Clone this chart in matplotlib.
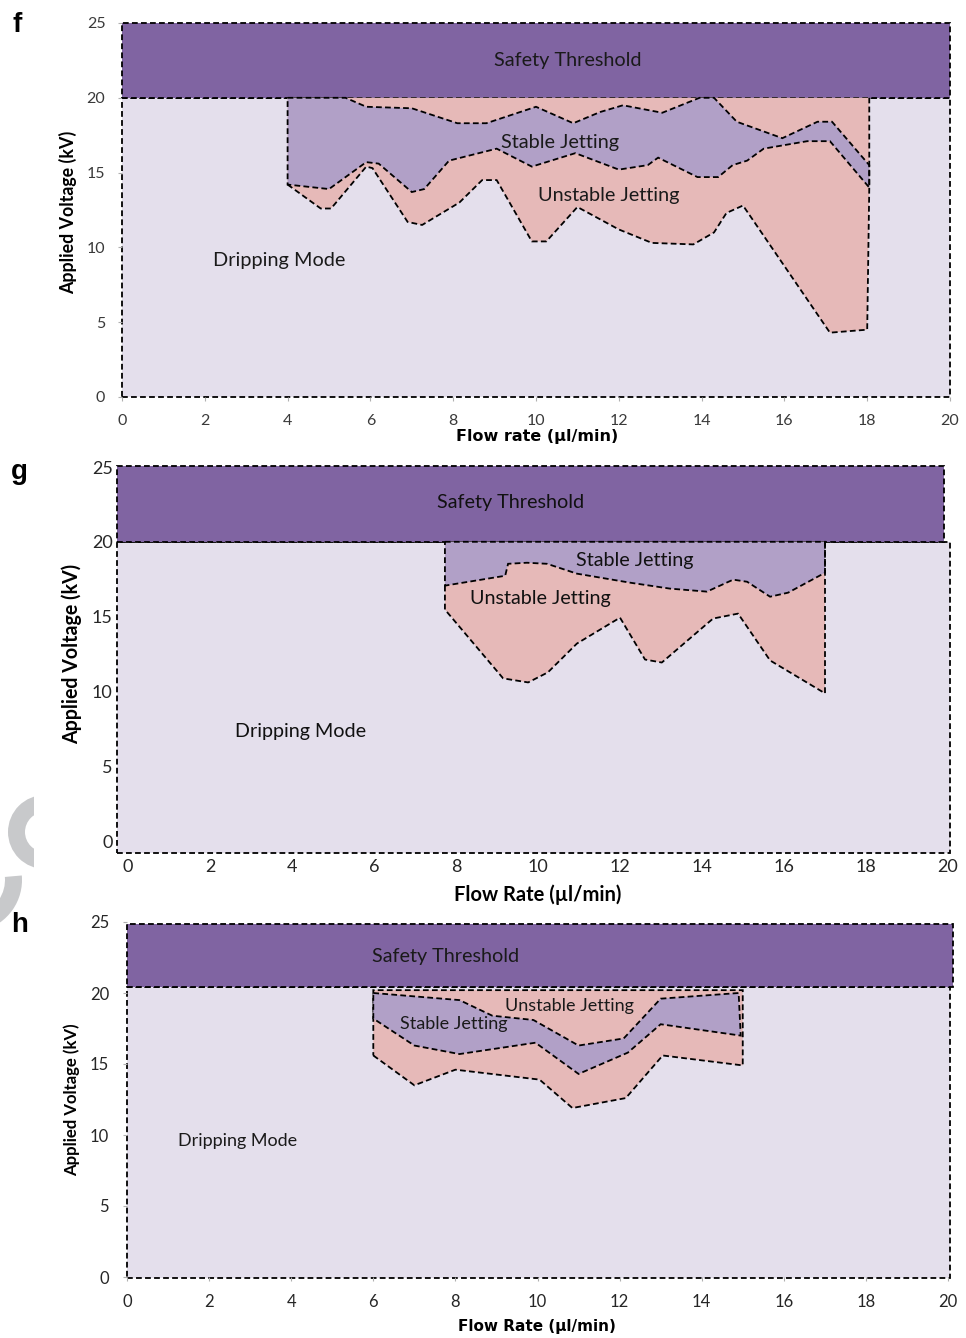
import matplotlib
matplotlib.use("Agg")
import matplotlib.pyplot as plt
from matplotlib.patches import Rectangle, Polygon, Wedge

plt.rcParams['font.family'] = ['Lato', 'DejaVu Sans']

W, H = 966, 1338

# ---------------- data: operating-mode boundaries (flow rate, voltage) ----------------
x_ticks = [0, 2, 4, 6, 8, 10, 12, 14, 16, 18, 20]
y_ticks = [0, 5, 10, 15, 20, 25]

# panel f
f_stable_upper_x = [4.0, 5.4, 5.9, 7.0, 8.1, 8.8, 10.0, 10.9, 11.55, 12.1, 13.05, 13.95, 14.3, 14.85, 15.95, 16.8, 17.15, 18.05]
f_stable_upper_y = [20.0, 20.0, 19.4, 19.3, 18.3, 18.3, 19.4, 18.3, 19.05, 19.5, 19.0, 20.0, 20.0, 18.4, 17.3, 18.4, 18.4, 15.5]
f_stable_lower_x = [4.0, 5.0, 5.9, 6.2, 7.0, 7.3, 7.9, 9.05, 9.9, 10.95, 12.0, 12.7, 12.95, 13.9, 14.4, 14.75, 15.1, 15.5, 16.55, 17.1, 18.05]
f_stable_lower_y = [14.2, 13.9, 15.7, 15.6, 13.7, 13.9, 15.8, 16.6, 15.4, 16.3, 15.2, 15.5, 16.0, 14.7, 14.7, 15.5, 15.8, 16.6, 17.1, 17.1, 14.0]
f_drip_x = [4.0, 4.8, 5.05, 5.9, 6.05, 6.9, 7.25, 8.15, 8.7, 9.05, 9.9, 10.25, 11.0, 12.0, 12.8, 13.8, 14.3, 14.6, 15.0, 17.1, 18.0]
f_drip_y = [14.2, 12.6, 12.6, 15.4, 15.3, 11.7, 11.5, 13.0, 14.5, 14.5, 10.4, 10.4, 12.7, 11.2, 10.3, 10.2, 11.0, 12.3, 12.8, 4.3, 4.5]

# panel g
g_stable_lower_x = [7.73, 9.2, 9.27, 9.73, 10.22, 10.95, 12.24, 13.22, 14.12, 14.76, 15.1, 15.66, 16.1, 17.0]
g_stable_lower_y = [17.07, 17.73, 18.53, 18.6, 18.53, 17.87, 17.27, 16.87, 16.67, 17.47, 17.33, 16.33, 16.6, 17.93]
g_drip_x = [7.73, 9.15, 9.76, 10.24, 10.95, 12.0, 12.61, 13.02, 14.27, 14.88, 15.66, 17.0]
g_drip_y = [15.47, 10.87, 10.6, 11.27, 13.2, 14.93, 12.13, 11.93, 14.87, 15.2, 12.07, 9.87]

# panel h
h_stable_upper_x = [6.0, 8.1, 8.9, 9.9, 11.0, 12.1, 13.0, 14.9, 14.95]
h_stable_upper_y = [20.0, 19.5, 18.4, 18.1, 16.3, 16.8, 19.6, 20.0, 17.0]
h_stable_lower_x = [6.0, 7.0, 8.1, 9.95, 11.0, 12.2, 13.0, 14.95]
h_stable_lower_y = [18.2, 16.3, 15.7, 16.5, 14.3, 15.8, 17.8, 17.0]
h_drip_x = [6.0, 7.0, 8.0, 10.05, 10.85, 12.15, 13.05, 15.0]
h_drip_y = [15.6, 13.5, 14.6, 13.9, 11.9, 12.6, 15.6, 14.9]

# ---------------- styling ----------------
C_SAFE = '#8064A2'
C_DRIP = '#E4DFEC'
C_STABLE = '#B1A0C7'
C_UNSTABLE = '#E6B9B8'
DASH = (0, (3.2, 1.8))
LW = 1.3
WIDE_BOLD = ['DejaVu Sans']

fig = plt.figure(figsize=(W / 100, H / 100), dpi=100)


def fx(px):
    return px / W


def fy(py):
    return 1 - py / H


def make_axes(x0, x20, y0, y25):
    ax = fig.add_axes([fx(x0), fy(y0), (x20 - x0) / W, (y0 - y25) / H])
    ax.set_xlim(0, 20)
    ax.set_ylim(0, 25)
    for s in ax.spines.values():
        s.set_visible(False)
    ax.patch.set_visible(False)
    ax.set_xticks(x_ticks)
    ax.set_yticks(y_ticks)
    return ax


def rect(ax, x0, y0, x1, y1, color, z):
    ax.add_patch(Rectangle((x0, y0), x1 - x0, y1 - y0, facecolor=color,
                           edgecolor='black', lw=LW, linestyle=DASH,
                           zorder=z, clip_on=False))


def poly(ax, xs, ys, color, z, edge=True):
    ax.add_patch(Polygon(list(zip(xs, ys)), closed=True, facecolor=color,
                         edgecolor='black' if edge else 'none', lw=LW,
                         linestyle=DASH, zorder=z, clip_on=False))


def dline(ax, xs, ys, z):
    ax.plot(xs, ys, color='black', lw=LW, linestyle=DASH, zorder=z,
            clip_on=False)


def ptext(px, py, s, **kw):
    fig.text(fx(px), fy(py), s, ha='center', va='center', **kw)


def label(ax, x, y, s, size, color='#1a1a1a'):
    ax.text(x, y, s, ha='center', va='center', fontsize=size, color=color,
            zorder=6)


# ================= panel f =================
ax = make_axes(122, 950, 397, 23)
rect(ax, 0, 0, 20, 20, C_DRIP, 1)
rect(ax, 0, 20, 20, 25, C_SAFE, 2)
# unstable jetting envelope
ux = f_drip_x + [18.05, 18.05, 4.0]
uy = f_drip_y + [14.0, 20.0, 20.0]
poly(ax, ux, uy, C_UNSTABLE, 3, edge=False)
dline(ax, f_drip_x + [18.05, 18.05], f_drip_y + [14.0, 20.0], 5)
# stable jetting window
sx = f_stable_upper_x + f_stable_lower_x[::-1]
sy = f_stable_upper_y + f_stable_lower_y[::-1]
poly(ax, sx, sy, C_STABLE, 4)
label(ax, 10.77, 22.5, 'Safety Threshold', 14.3)
label(ax, 10.58, 17.0, 'Stable Jetting', 14.3)
label(ax, 11.76, 13.5, 'Unstable Jetting', 14.3)
label(ax, 3.79, 9.1, 'Dripping Mode', 14.3)
ax.tick_params(axis='both', length=3, width=0.8, color='#b0b0b0', pad=9,
               labelsize=11.5, labelcolor='#3a3a3a')
ax.tick_params(axis='y', pad=9)
ptext(537, 437, 'Flow rate (µl/min)', fontsize=11.5, fontweight='bold',
      family=WIDE_BOLD)
ptext(68, 212, 'Applied Voltage (kV)', fontsize=12.8, fontweight='bold', rotation=90)
fig.text(fx(17), fy(25), 'f', ha='center', va='center', fontsize=20,
         fontweight='bold', family=['Liberation Sans', 'DejaVu Sans'])

# ================= panel g =================
ax = make_axes(128, 948, 841, 467)
rect(ax, -0.27, -0.8, 20.05, 20.0, C_DRIP, 1)
rect(ax, -0.27, 20.0, 19.9, 25.07, C_SAFE, 2)
ux = g_drip_x + [17.0, 7.73]
uy = g_drip_y + [20.0, 20.0]
poly(ax, ux, uy, C_UNSTABLE, 3, edge=False)
dline(ax, [7.73] + g_drip_x + [17.0], [17.07] + g_drip_y + [20.0], 5)
sx = [7.73, 17.0] + g_stable_lower_x[::-1]
sy = [20.0, 20.0] + g_stable_lower_y[::-1]
poly(ax, sx, sy, C_STABLE, 4)
label(ax, 9.34, 22.66, 'Safety Threshold', 14.2, '#111111')
label(ax, 12.37, 18.78, 'Stable Jetting', 14.2, '#111111')
label(ax, 10.07, 16.24, 'Unstable Jetting', 14.2, '#111111')
label(ax, 4.2, 7.29, 'Dripping Mode', 14.2, '#111111')
ax.tick_params(axis='both', length=0, pad=13, labelsize=13, labelcolor='#262626')
ax.tick_params(axis='y', pad=11)
ptext(538, 895, 'Flow Rate (µl/min)', fontsize=14.5, fontweight='bold')
ptext(72, 654, 'Applied Voltage (kV)', fontsize=14.1, fontweight='bold', rotation=90)
fig.text(fx(19), fy(472), 'g', ha='center', va='center', fontsize=20,
         fontweight='bold', family=['Liberation Sans', 'DejaVu Sans'])

# ================= panel h =================
ax = make_axes(127, 948, 1277, 922)
rect(ax, 0, -0.07, 20.05, 20.45, C_DRIP, 1)
rect(ax, 0, 20.45, 20.12, 24.86, C_SAFE, 2)
ux = h_drip_x + [15.0, 6.0]
uy = h_drip_y + [20.2, 20.2]
poly(ax, ux, uy, C_UNSTABLE, 3)
sx = h_stable_upper_x + h_stable_lower_x[::-1]
sy = h_stable_upper_y + h_stable_lower_y[::-1]
poly(ax, sx, sy, C_STABLE, 4)
label(ax, 7.77, 22.54, 'Safety Threshold', 14.2)
label(ax, 10.77, 19.08, 'Unstable Jetting', 13.0)
label(ax, 7.97, 17.82, 'Stable Jetting', 13.0)
label(ax, 2.70, 9.58, 'Dripping Mode', 13.0)
ax.tick_params(axis='both', length=3, width=0.8, color='#b0b0b0', pad=9,
               labelsize=12, labelcolor='#262626')
ax.tick_params(axis='y', pad=10)
ptext(537, 1327, 'Flow Rate (µl/min)', fontsize=11, fontweight='bold',
      family=WIDE_BOLD)
ptext(72, 1100, 'Applied Voltage (kV)', fontsize=12.1, fontweight='bold', rotation=90)
fig.text(fx(20), fy(925), 'h', ha='center', va='center', fontsize=20,
         fontweight='bold', family=['Liberation Sans', 'DejaVu Sans'])

# light grey ring fragments at the left margin
ov = fig.add_axes([0, 0, 1, 1])
ov.set_xlim(0, W)
ov.set_ylim(H, 0)
ov.axis('off')
ov.add_patch(Wedge((45, 832), 37, 90, 270, width=17, facecolor='#c8c9cb', edgecolor='none'))
ov.add_patch(Rectangle((33.5, 780), 20, 100, facecolor='white', edgecolor='none'))
ov.add_patch(Wedge((-30, 880), 52, -5, 75, width=17, facecolor='#c8c9cb', edgecolor='none'))

fig.savefig('out.png', dpi=100)
